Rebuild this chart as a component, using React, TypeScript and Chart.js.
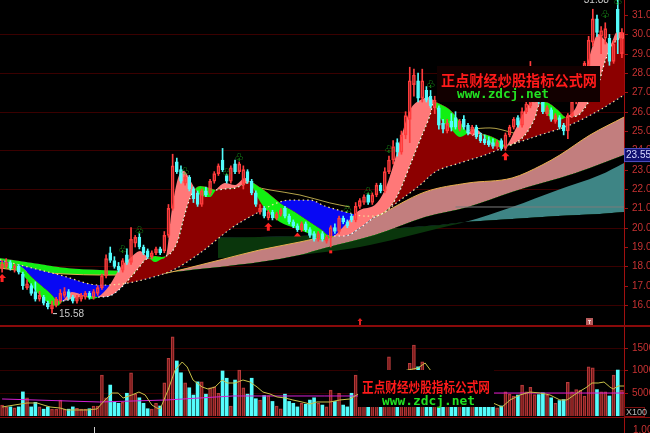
import React, { useEffect, useRef } from "react";
import { Chart, registerables } from "chart.js";

Chart.register(...registerables);

// ---------- candles ----------
const opens = [
  17.9,18.0,18.2,17.9,18.0,17.6,16.9,17.0,16.7,16.3,
  16.4,16.1,15.8,16.0,16.2,16.5,16.7,16.4,16.2,16.3,
  16.4,16.6,16.4,16.6,16.9,17.5,18.7,18.3,18.0,17.8,
  18.6,18.2,19.2,19.5,19.0,18.8,18.5,18.7,18.9,18.8,
  19.6,21.0,23.4,23.0,22.3,22.6,22.0,21.8,21.2,21.9,
  21.8,22.4,22.8,23.5,22.7,22.4,23.3,22.9,22.2,22.9,
  22.4,21.8,20.8,21.0,20.5,20.8,20.5,20.7,21.0,20.6,
  20.3,20.1,19.9,20.2,19.9,19.7,19.4,19.7,19.3,19.5,
  20.0,19.8,20.5,20.3,20.6,20.4,21.1,21.3,21.7,21.3,
  21.7,22.2,21.9,22.9,23.5,24.4,23.9,24.8,25.6,27.4,
  27.6,26.7,27.1,26.8,26.2,26.2,25.4,25.0,25.5,25.7,
  25.1,25.6,25.3,24.9,25.2,24.8,24.6,24.5,24.4,24.2,
  24.5,24.1,24.8,25.2,25.7,25.3,26.0,26.3,26.7,27.0,
  26.6,25.9,26.1,25.5,25.7,25.3,25.0,25.8,26.5,27.1,
  27.9,28.4,29.6,30.8,29.9,29.8,29.8,28.6,31.3,29.0,
];
const highs = [
  18.3,18.4,18.3,18.1,18.1,17.7,17.3,17.1,17.2,16.7,
  16.5,16.2,16.2,16.4,16.8,16.9,16.8,16.5,16.5,16.6,
  16.7,16.7,16.8,17.0,17.6,18.6,19.0,18.5,18.2,18.4,
  18.9,20.0,19.6,19.7,19.1,18.9,18.8,19.0,19.0,19.8,
  21.2,23.8,23.6,23.2,22.7,22.7,22.1,21.9,22.0,22.1,
  22.5,22.9,23.3,24.1,22.75,23.2,23.5,23.4,23.2,23.0,
  22.5,21.9,21.2,21.1,20.9,20.9,20.8,21.0,21.1,20.7,
  20.4,20.2,20.3,20.3,20.0,19.8,19.8,19.8,19.6,20.1,
  20.2,20.6,20.6,20.4,20.7,21.3,21.5,21.7,21.75,21.8,
  22.3,22.3,23.1,23.7,24.5,24.6,25.0,26.0,28.3,28.2,
  28.0,28.2,27.3,27.1,26.8,26.3,25.6,25.6,25.9,26.0,
  25.6,25.8,25.4,25.3,25.3,24.9,24.8,24.7,24.6,24.5,
  24.6,24.9,25.3,25.7,25.8,26.2,26.5,28.6,27.1,27.1,
  26.7,26.3,26.2,25.9,25.8,25.4,25.9,26.6,27.3,28.2,
  28.6,29.9,31.3,31.0,30.4,30.6,30.0,29.7,31.88,30.3,
];
const lows = [
  17.7,17.9,17.8,17.7,17.6,16.8,16.8,16.5,16.2,16.2,
  16.0,15.8,15.58,15.9,16.1,16.4,16.3,16.1,16.1,16.2,
  16.3,16.3,16.3,16.5,16.8,17.4,18.2,17.9,17.7,17.7,
  18.1,18.1,19.0,18.9,18.6,18.4,18.4,18.6,18.6,18.7,
  19.5,20.9,22.8,22.3,22.2,21.9,21.3,21.1,21.1,21.6,
  21.7,22.3,22.7,22.9,22.3,22.3,22.8,22.8,22.0,22.3,
  21.7,21.1,20.7,20.5,20.4,20.4,20.4,20.6,20.5,20.2,
  20.0,19.8,19.8,19.8,19.5,19.3,19.3,19.3,19.2,19.0,
  19.7,19.7,20.2,20.0,20.3,20.3,21.0,21.2,21.2,21.2,
  21.6,21.8,21.8,22.8,23.3,23.7,23.8,24.6,24.4,26.8,
  26.5,26.5,26.5,26.2,25.9,25.1,24.9,24.9,25.0,25.1,
  25.0,25.1,24.8,24.8,24.6,24.4,24.3,24.2,24.1,24.1,
  24.0,24.0,24.7,25.1,25.2,25.2,25.9,26.2,26.5,26.4,
  25.9,25.8,25.5,25.4,25.1,24.8,24.6,25.7,26.4,27.0,
  27.8,28.3,29.4,29.9,29.0,29.5,28.4,28.5,29.0,28.8,
];
const closes = [
  18.1,18.2,17.9,18.0,17.7,17.0,17.1,16.6,16.3,16.5,
  16.1,15.9,16.0,16.3,16.6,16.7,16.4,16.2,16.4,16.5,
  16.6,16.4,16.7,16.9,17.5,18.4,18.3,18.0,17.8,18.3,
  18.2,19.4,19.5,19.0,18.7,18.5,18.7,18.9,18.7,19.6,
  21.0,23.2,22.9,22.4,22.6,22.0,21.5,21.2,21.9,21.7,
  22.4,22.8,23.2,23.0,22.4,23.1,22.9,23.3,23.0,22.4,
  21.8,21.2,21.0,20.6,20.8,20.5,20.7,20.9,20.6,20.3,
  20.1,19.9,20.2,19.9,19.6,19.4,19.7,19.4,19.5,20.0,
  19.8,20.5,20.3,20.1,20.4,21.1,21.4,21.6,21.3,21.7,
  22.2,21.9,22.9,23.5,24.2,23.9,24.8,25.8,27.6,27.9,
  26.7,27.6,26.6,26.3,26.6,25.3,25.1,25.4,25.2,25.2,
  25.5,25.2,24.9,25.2,24.7,24.5,24.4,24.3,24.2,24.4,
  24.1,24.8,25.2,25.6,25.3,26.0,26.4,26.8,27.0,26.5,
  26.0,26.2,25.6,25.8,25.2,25.0,25.8,26.5,27.2,28.0,
  28.5,29.7,30.8,30.1,30.2,30.3,28.6,29.5,30.1,30.1,
];
const volumes = [
  2400,2000,2000,1800,2000,5300,4000,2000,3000,2000,
  1500,2000,1500,1500,3500,1500,1500,2000,1700,1500,
  1500,1600,2200,2200,9000,4000,6800,3000,2800,3000,
  5000,9500,4800,4000,2800,1600,1500,2800,2200,7300,
  12700,17400,12100,9500,7300,6200,4600,7500,7500,4800,
  6200,6400,5000,9900,8300,2200,7900,10100,6200,4800,
  8300,3800,3500,4500,4500,3200,2200,1600,4800,3200,
  2800,2000,2800,2600,3500,4000,2800,2400,2000,5700,
  3200,5000,2400,2000,5000,9000,6000,4500,5500,4000,
  6500,7000,8000,13000,9000,8500,10000,9500,11600,15600,
  10800,11900,9000,7000,5500,4000,3500,3000,2800,3200,
  2500,2600,2200,2400,2000,2300,2000,2000,2000,1800,
  2200,5300,4800,4400,4600,6800,5300,6300,4700,4700,
  5100,4600,4000,2800,3400,3600,7400,5300,5800,5700,
  4400,10800,10600,5800,5300,5300,4400,9000,10100,5700,
];

// ---------- axis ticks ----------
const priceTicks = [16,17,18,19,20,21,22,23,24,25,26,27,28,29,30,31];
const volumeTicks = [5000, 10000, 15000];

// ---------- indicator bands (x = candle index) ----------
const fastIdx = [-0.5,4.3,7.9,11.5,13.2,14.6,16.8,18.7,19.9,21.6,23.1,25.9,28.3,30.8,33.2,34.4,35.3,36.8,38.4,39.4,40.8,42.3,43.7,45.2,46.4,47.6,50.0,51.4,53.6,56.0,58.4,59.6,61.5,63.9,66.8,70.4,74.0,76.9,78.8,79.8,82.4,86.0,89.6,92.0,93.7,95.7,98.1,100.5,102.9,103.8,105.3,107.7,110.1,112.0,113.7,115.4,117.3,119.7,121.1,123.3,125.7,128.1,129.3,130.5,133.6,135.6,138.2,141.3,143.3,144.9,146.1,147.8,149.5];
const fast1 = [18.02,17.71,16.78,16.05,15.95,16.21,16.67,16.57,16.47,16.31,16.41,17.03,17.91,18.43,18.79,18.59,18.43,18.22,18.38,18.53,20.91,22.57,22.93,22.47,22.00,21.69,21.59,21.95,22.31,22.21,22.57,22.36,21.54,20.81,20.29,19.98,19.67,19.36,19.47,19.57,20.14,20.91,21.17,21.95,22.98,24.54,26.09,26.60,26.76,26.50,25.67,25.16,24.69,24.90,25.10,24.85,24.38,24.17,24.22,25.05,26.09,26.60,26.45,25.98,25.57,25.72,26.35,28.93,30.02,29.71,29.45,30.12,30.07];
const fast2 = [18.22,18.02,17.29,16.62,16.26,16.21,16.31,16.41,16.47,16.47,16.41,16.47,16.83,17.40,18.02,18.33,18.43,18.53,18.48,18.53,18.74,19.36,20.50,21.54,22.00,22.16,22.05,21.95,22.00,22.05,22.26,22.36,22.16,21.79,21.28,20.81,20.29,19.88,19.57,19.57,19.57,19.98,20.55,20.81,21.17,21.95,23.24,24.54,25.83,26.50,26.40,26.09,25.47,24.90,24.79,24.85,24.74,24.48,24.22,24.38,24.79,25.67,26.45,26.50,26.09,25.72,25.78,26.60,27.38,28.57,29.19,29.71,29.81];
const midIdx = [-0.5,4.3,13.9,23.5,28.8,35.6,41.1,47.6,55.5,61.3,66.1,69.2,74.0,77.6,83.6,87.2,89.6,95.7,100.5,104.1,110.1,116.1,120.9,129.3,136.5,143.7,149.5];
const mid = [18.33,18.07,17.55,17.03,17.09,17.40,17.81,18.69,20.03,20.76,21.28,21.43,21.43,21.12,20.76,20.60,20.60,21.43,22.21,22.88,23.35,23.76,24.17,24.79,25.31,26.09,26.86];
const slowIdx = [-0.5,7.4,15.6,23.5,31.5,38.0,40.8,47.6,52.4,62.0,71.6,77.6,89.6,101.7,112.0,122.6,129.8,134.1,141.3,149.5];
const slow1 = [17.91,17.71,17.60,17.55,17.55,17.60,17.71,18.07,18.33,18.85,19.26,19.57,20.55,21.85,22.31,22.57,23.24,23.76,24.79,25.72];
const slow2 = [18.43,18.17,17.91,17.81,17.76,17.71,17.71,17.86,17.97,18.22,18.59,18.95,19.62,20.55,21.07,21.85,22.31,22.57,23.09,23.76];
const longIdx = [51.9,62.0,71.6,77.6,86.0,95.7,105.3,111.3,122.6,133.6,143.7,149.5];
const long1 = [18.43,18.48,18.59,18.74,19.00,19.47,19.98,20.29,21.07,21.95,22.72,23.35];
const long2 = [19.49,19.52,19.57,19.62,19.78,19.98,20.14,20.29,20.45,20.60,20.71,20.81];
const oliveIdx = [58.4,64.4,71.6,78.8,83.6,96,108.9,112.5,117.3,122.1,126.9];
const olive = [22.21,21.95,21.69,21.28,21.07,null,24.74,25.05,25.16,24.95,24.64];
const refIdx = [109, 149.5];
const refPrice = [21.07, 21.07];

// ---------- signals ----------
const clubIdx = [29, 33, 44, 54, 57, 83, 88, 93, 103, 129, 145, 148];
const clubPrice = [18.85, 19.8, 22.88, 22.83, 23.6, 20.91, 21.85, 24.0, 27.38, 27.28, 31.0, 31.68];
const buyIdx = [0, 64, 121];
const buyPrice = [17.6, 20.25, 23.9];
const triIdx = [71];
const triPrice = [19.75];
const dotIdx = [79];
const dotPrice = [18.75];
const lowMarkIdx = 12;
const lowMarkPrice = 15.58;
const highMarkIdx = 148;
const highMarkPrice = 31.88;
const lastPrice = 23.55;
const eventIdx = [86, 141];
const tickMarkIdx = [22];

// ---------- volume averages ----------
const volMaIdx = [0,6.0,8.4,11.5,13.9,15.6,20.4,22.8,24.3,26.4,27.9,29.1,31.2,32.9,34.4,36.0,37.2,38,39.9,41.6,43.3,44.5,45.9,48.1,49.5,51.2,52.9,54.1,56.0,57.9,59.6,61.3,62.7,64.4,66.1,68.0,69.9,72.1,74.0,75.7,78.8,81.2,83.6,86,90,94,97,100,101.7,103.3,106,110,114,118,120.2,122.1,124.5,126.9,129.3,131.7,134.1,135.8,138.2,140.6,141.8,143.3,144.7,146.1,146.9,148.1,149.5];
const volMa = [1980,2860,2860,1980,1760,1320,1320,1540,3080,5050,5050,3960,4620,5270,4620,2420,1760,1540,5710,10110,11870,10770,7910,6370,5930,6370,7910,7250,7250,7910,7470,6370,5270,4840,4180,3960,3520,3080,2640,3080,3080,3520,3740,5000,5500,8000,10000,10550,11650,9670,7000,4000,2800,2860,1980,3520,4620,5270,5050,4620,3520,3520,5050,6370,7250,7250,7470,6370,5930,6590,6590];
const volMaLongIdx = [0,23.5,39.6,55.5,77.6,85.6,117.8,149.5];
const volMaLong = [3740,3080,3520,4400,4400,4400,5050,5050];

// ---------- styling ----------
const CYAN = "#54FCFC";
const RED = "#FF3C3C";
const PINK = "#FF7878";
const GREEN = "#12F012";
const DARKRED = "#8C0000";
const BLUE = "#0808F4";
const ROSY = "#C27E7E";
const SGREEN = "#14EC14";
const TEAL = "#3E8585";
const DGREEN = "#0A360C";
const AXIS_RED = "#C83232";
const LABEL_FONT = '10px "Liberation Sans", Arial, sans-serif';

const xy = (xs: number[], ys: (number | null)[]) => xs.map((x, k) => ({ x, y: ys[k] }));
const isUp = (i: number) => closes[i] >= opens[i];

function drawWatermark(ctx: any, bx: number, by: number, bw: number, bh: number, bg: string,
  cnX: number, cnY: number, cnSize: number, cnW: number, enX: number, enY: number, enSize: number, enW: number) {
  ctx.fillStyle = bg;
  ctx.fillRect(bx, by, bw, bh);
  ctx.textAlign = "left";
  ctx.textBaseline = "alphabetic";
  ctx.font = `bold ${cnSize}px "Noto Sans CJK SC", sans-serif`;
  ctx.fillStyle = "#FF1A1A";
  ctx.fillText("正点财经炒股指标公式网", cnX, cnY, cnW);
  ctx.font = `bold ${enSize}px "DejaVu Sans Mono", monospace`;
  ctx.fillStyle = "#22E022";
  ctx.fillText("www.zdcj.net", enX, enY, enW);
}

const mainDecor = {
  id: "mainDecor",
  beforeDatasetsDraw(chart: any) {
    const { ctx, chartArea: a, scales } = chart;
    ctx.save();
    ctx.fillStyle = "#3a0000";
    for (const v of priceTicks) {
      if (v % 2 !== 0) continue;
      const py = Math.round(scales.y.getPixelForValue(v));
      ctx.fillRect(a.left, py, a.right - a.left, 1);
    }
    ctx.restore();
  },
  afterDatasetsDraw(chart: any) {
    const { ctx, chartArea: a, scales } = chart;
    const x = scales.x, y = scales.y;
    ctx.save();
    ctx.font = '11px "DejaVu Sans"';
    ctx.textAlign = "center";
    ctx.textBaseline = "middle";
    ctx.fillStyle = "#22C822";
    clubIdx.forEach((ci, k) => ctx.fillText("\u2667", x.getPixelForValue(ci), y.getPixelForValue(clubPrice[k])));
    ctx.fillStyle = "#FF2222";
    buyIdx.forEach((bi, k) => {
      const px = x.getPixelForValue(bi), py = y.getPixelForValue(buyPrice[k]);
      ctx.beginPath();
      ctx.moveTo(px, py);
      ctx.lineTo(px + 4, py + 4);
      ctx.lineTo(px + 1.5, py + 4);
      ctx.lineTo(px + 1.5, py + 8);
      ctx.lineTo(px - 1.5, py + 8);
      ctx.lineTo(px - 1.5, py + 4);
      ctx.lineTo(px - 4, py + 4);
      ctx.closePath();
      ctx.fill();
    });
    triIdx.forEach((ti, k) => {
      const px = x.getPixelForValue(ti), py = y.getPixelForValue(triPrice[k]);
      ctx.beginPath();
      ctx.moveTo(px, py);
      ctx.lineTo(px + 3.5, py + 4);
      ctx.lineTo(px - 3.5, py + 4);
      ctx.closePath();
      ctx.fill();
    });
    dotIdx.forEach((di, k) => {
      const px = x.getPixelForValue(di), py = y.getPixelForValue(dotPrice[k]);
      ctx.fillRect(px - 1.5, py - 1.5, 3, 3);
    });
    // event markers along the bottom of the price panel
    eventIdx.forEach((ei, k) => {
      const px = Math.round(x.getPixelForValue(ei));
      const by = a.bottom;
      if (k === 0) {
        ctx.fillStyle = "#E02020";
        ctx.beginPath();
        ctx.moveTo(px, by - 7);
        ctx.lineTo(px + 2.5, by - 4);
        ctx.lineTo(px - 2.5, by - 4);
        ctx.closePath();
        ctx.fill();
        ctx.fillRect(px - 1, by - 4, 2, 4);
      } else {
        ctx.fillStyle = "#B85C5C";
        ctx.fillRect(px - 3, by - 7, 7, 7);
        ctx.fillStyle = "#F0D0D0";
        ctx.fillRect(px - 1, by - 5, 3, 1);
        ctx.fillRect(px, by - 5, 1, 4);
      }
    });
    const lx = x.getPixelForValue(lowMarkIdx), ly = y.getPixelForValue(lowMarkPrice);
    ctx.fillStyle = "#DDDDDD";
    ctx.fillRect(lx + 1, ly, 4, 1);
    ctx.font = LABEL_FONT;
    ctx.textAlign = "left";
    ctx.fillStyle = "#C8C8C8";
    ctx.fillText(lowMarkPrice.toFixed(2), lx + 7, ly + 1);
    const hx = x.getPixelForValue(highMarkIdx), hy = y.getPixelForValue(highMarkPrice);
    ctx.fillText(highMarkPrice.toFixed(2), hx - 34, hy + 2);
    ctx.restore();
  },
  afterDraw(chart: any) {
    const { ctx, chartArea: a, scales, width, height } = chart;
    const y = scales.y;
    ctx.save();
    drawWatermark(ctx, 437, 66, 163, 36, "#120000", 441, 86, 15, 156, 457, 98, 13, 92);
    ctx.fillStyle = "#A01010";
    ctx.fillRect(a.right, 0, 1, height);
    ctx.font = LABEL_FONT;
    ctx.textAlign = "left";
    ctx.textBaseline = "middle";
    for (const v of priceTicks) {
      const py = Math.round(y.getPixelForValue(v));
      ctx.fillStyle = "#A01010";
      ctx.fillRect(a.right, py, 4, 1);
      ctx.fillStyle = AXIS_RED;
      ctx.fillText(v.toFixed(2), a.right + 8, py + 0.5);
    }
    const lp = y.getPixelForValue(lastPrice);
    ctx.fillStyle = "#101070";
    ctx.fillRect(a.right, lp - 11, 27, 14);
    ctx.strokeStyle = "#5050C0";
    ctx.strokeRect(a.right + 0.5, lp - 10.5, 27, 13);
    ctx.fillStyle = "#D8D8FF";
    ctx.fillText(lastPrice.toFixed(2), a.right + 2, lp - 3.5);
    ctx.fillStyle = "#8A0A0A";
    ctx.fillRect(0, 325, width, 2);
    ctx.restore();
  },
};

const volDecor = {
  id: "volDecor",
  beforeDatasetsDraw(chart: any) {
    const { ctx, chartArea: a, scales } = chart;
    ctx.save();
    ctx.fillStyle = "#320000";
    for (const v of volumeTicks) {
      const py = Math.round(scales.y.getPixelForValue(v));
      ctx.fillRect(a.left, py, a.right - a.left, 1);
    }
    ctx.restore();
  },
  afterDraw(chart: any) {
    const { ctx, chartArea: a, scales, width, height } = chart;
    const y = scales.y, x = scales.x;
    ctx.save();
    drawWatermark(ctx, 358, 42, 136, 37, "#000000", 362, 64, 14, 128, 382, 77, 13, 93);
    ctx.fillStyle = "#A01010";
    ctx.fillRect(a.right, 0, 1, height);
    ctx.font = LABEL_FONT;
    ctx.textAlign = "left";
    ctx.textBaseline = "middle";
    for (const v of volumeTicks) {
      const py = Math.round(y.getPixelForValue(v));
      ctx.fillStyle = "#A01010";
      ctx.fillRect(a.right, py, 4, 1);
      ctx.fillStyle = AXIS_RED;
      ctx.fillText(String(v), a.right + 8, py + 0.5);
    }
    ctx.strokeStyle = "#7A1010";
    ctx.strokeRect(a.right + 0.5, a.bottom - 8.5, 20, 9);
    ctx.font = '9px "Liberation Sans", Arial, sans-serif';
    ctx.fillStyle = "#B8B8B8";
    ctx.fillText("X100", a.right + 2, a.bottom - 3.5);
    ctx.fillStyle = "#8A0A0A";
    ctx.fillRect(0, a.bottom + 1, width, 1);
    ctx.font = LABEL_FONT;
    ctx.fillStyle = AXIS_RED;
    ctx.fillText("1.00", a.right + 9, a.bottom + 14);
    ctx.fillStyle = "#D0D0D0";
    tickMarkIdx.forEach((ti) => {
      ctx.fillRect(Math.round(x.getPixelForValue(ti)), a.bottom + 11, 1, 6);
    });
    ctx.restore();
  },
};

function mainConfig(): any {
  const band: any = { type: "line", pointRadius: 0, borderWidth: 0, cubicInterpolationMode: "monotone" };
  return {
    type: "line",
    data: {
      datasets: [
        {
          type: "bar",
          data: opens.map((o, i) => ({ x: i, y: [o, closes[i]] })),
          backgroundColor: (c: any) => (isUp(c.dataIndex) ? "rgba(0,0,0,0)" : CYAN),
          borderColor: (c: any) => (isUp(c.dataIndex) ? RED : CYAN),
          borderWidth: 1,
          borderSkipped: false,
          barThickness: 3,
          grouped: false,
          order: 1,
        },
        {
          type: "bar",
          data: highs.map((h, i) => ({ x: i, y: [Math.max(opens[i], closes[i]), h] })),
          backgroundColor: (c: any) => (isUp(c.dataIndex) ? RED : CYAN),
          borderWidth: 0,
          barThickness: 1,
          grouped: false,
          order: 2,
        },
        {
          type: "bar",
          data: lows.map((l, i) => ({ x: i, y: [l, Math.min(opens[i], closes[i])] })),
          backgroundColor: (c: any) => (isUp(c.dataIndex) ? RED : CYAN),
          borderWidth: 0,
          barThickness: 1,
          grouped: false,
          order: 2,
        },
        {
          ...band,
          data: xy(fastIdx, fast2),
          borderWidth: 1.2,
          borderDash: [1.5, 3],
          borderColor: "rgba(0,0,0,0)",
          segment: {
            borderColor: (c: any) =>
              fast1[c.p0DataIndex] + fast1[c.p1DataIndex] > fast2[c.p0DataIndex] + fast2[c.p1DataIndex] + 0.05
                ? "#FFFFFF"
                : "rgba(0,0,0,0)",
          },
          fill: false,
          order: 5,
        },
        { ...band, data: xy(midIdx, mid), borderWidth: 1.2, borderDash: [1.5, 3], borderColor: "#F4E49A", fill: false, order: 4 },
        { ...band, data: xy(longIdx, long2), fill: false, order: 100 },
        { ...band, data: xy(longIdx, long1), fill: { target: 5, above: TEAL, below: DGREEN }, order: 99 },
        { ...band, data: xy(slowIdx, slow2), fill: false, order: 90 },
        { ...band, data: xy(slowIdx, slow1), borderWidth: 1, borderColor: "#E8B050", fill: { target: 7, above: ROSY, below: SGREEN }, order: 89 },
        { ...band, data: xy(oliveIdx, olive), borderWidth: 1, borderColor: "#B4A44A", fill: false, order: 80 },
        { ...band, data: xy(fastIdx, fast2), fill: { target: 4, above: DARKRED, below: BLUE }, order: 60 },
        { ...band, data: xy(fastIdx, fast1), fill: { target: 10, above: PINK, below: GREEN }, order: 50 },
        { type: "line", data: xy(refIdx, refPrice), borderColor: "#7C7C7C", borderWidth: 1, pointRadius: 0, fill: false, order: 3 },
      ],
    },
    options: {
      responsive: false,
      animation: false,
      devicePixelRatio: 1,
      events: [],
      layout: { padding: { left: 0, right: 26, top: 0, bottom: 3 } },
      plugins: { legend: { display: false }, tooltip: { enabled: false } },
      scales: {
        x: { type: "linear", min: -0.5, max: 149.5, display: false, offset: false },
        y: { type: "linear", min: 14.965, max: 31.778, display: false },
      },
    },
    plugins: [mainDecor],
  };
}

function volConfig(): any {
  return {
    type: "bar",
    data: {
      datasets: [
        {
          type: "bar",
          data: volumes.map((v, i) => ({ x: i, y: v })),
          backgroundColor: (c: any) => (isUp(c.dataIndex) ? "rgba(110,8,8,0.4)" : CYAN),
          borderColor: (c: any) => (isUp(c.dataIndex) ? "#B83C3C" : CYAN),
          borderWidth: (c: any) => (isUp(c.dataIndex) ? 1 : 0),
          barThickness: 3,
          grouped: false,
          order: 3,
        },
        { type: "line", data: xy(volMaIdx, volMa), borderColor: "#C8C048", borderWidth: 1, pointRadius: 0, fill: false, order: 1 },
        { type: "line", data: xy(volMaLongIdx, volMaLong), borderColor: "#D420D4", borderWidth: 1, pointRadius: 0, fill: false, order: 2 },
      ],
    },
    options: {
      responsive: false,
      animation: false,
      devicePixelRatio: 1,
      events: [],
      layout: { padding: { left: 0, right: 26, top: 0, bottom: 17 } },
      plugins: { legend: { display: false }, tooltip: { enabled: false } },
      scales: {
        x: { type: "linear", min: -0.5, max: 149.5, display: false, offset: false },
        y: { type: "linear", min: 0, max: 19340, display: false },
      },
    },
    plugins: [volDecor],
  };
}

export default function App() {
  const mainRef = useRef<HTMLCanvasElement>(null);
  const volRef = useRef<HTMLCanvasElement>(null);
  useEffect(() => {
    document.body.style.margin = "0";
    document.body.style.background = "#000";
    const main = new Chart(mainRef.current as HTMLCanvasElement, mainConfig());
    const vol = new Chart(volRef.current as HTMLCanvasElement, volConfig());
    return () => {
      main.destroy();
      vol.destroy();
    };
  }, []);
  return (
    <div style={{ position: "relative", width: 650, height: 433, background: "#000", overflow: "hidden" }}>
      <canvas ref={mainRef} width={650} height={328} style={{ position: "absolute", left: 0, top: 0 }} />
      <canvas ref={volRef} width={650} height={105} style={{ position: "absolute", left: 0, top: 328 }} />
    </div>
  );
}
